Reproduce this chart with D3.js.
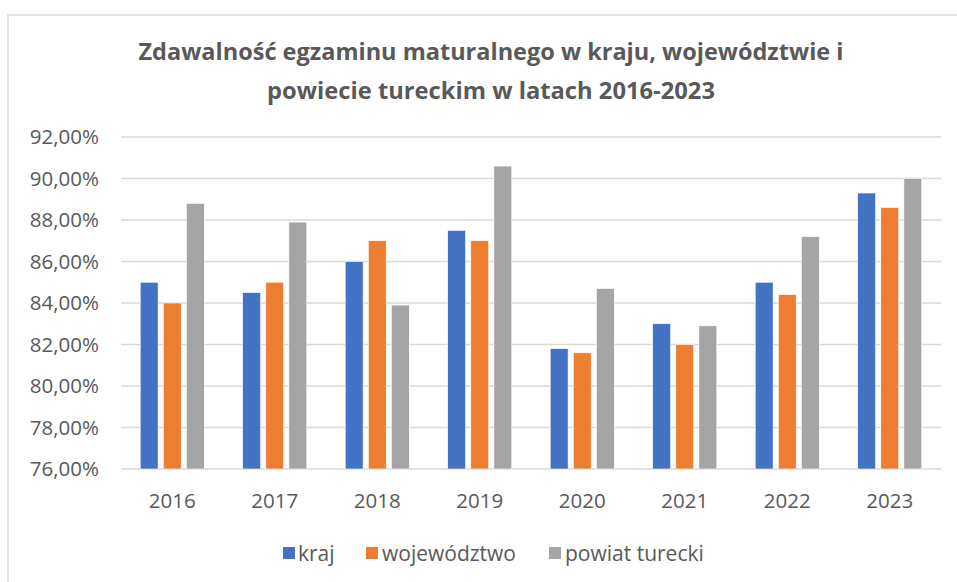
<!DOCTYPE html>
<html>
<head>
<meta charset="utf-8">
<script src="https://cdn.jsdelivr.net/npm/d3@7"></script>
<style>
  html, body { margin: 0; padding: 0; background: #fff; }
  svg { display: block; }
</style>
</head>
<body>
<svg id="chart" width="957" height="582"></svg>
<script>
const years = ["2016", "2017", "2018", "2019", "2020", "2021", "2022", "2023"];
const seriesNames = ["kraj", "województwo", "powiat turecki"];
const kraj = [85.0, 84.5, 86.0, 87.5, 81.8, 83.0, 85.0, 89.3];
const wojewodztwo = [84.0, 85.0, 87.0, 87.0, 81.6, 82.0, 84.4, 88.6];
const powiat = [88.8, 87.9, 83.9, 90.6, 84.7, 82.9, 87.2, 90.0];
const yTicks = [76, 78, 80, 82, 84, 86, 88, 90, 92];
const titleLines = ["Zdawalność egzaminu maturalnego w kraju, województwie i",
                    "powiecie tureckim w latach 2016-2023"];
const colors = ["#4472C4", "#ED7D31", "#A5A5A5"];

const seriesValues = [kraj, wojewodztwo, powiat];
const svg = d3.select("#chart");
const textColor = "#595959";
const font = "'Open Sans', 'Segoe UI', sans-serif";

// outer frame
svg.append("rect").attr("x", 8).attr("y", 15).attr("width", 1000).attr("height", 700)
  .attr("fill", "#fff").attr("stroke", "#d9d9d9").attr("stroke-width", 1.5);

const pLeft = 121, pRight = 941, pTop = 137, pBottom = 469;
const y = d3.scaleLinear().domain([76, 92]).range([pBottom, pTop]);
const x0 = d3.scaleBand().domain(years).range([pLeft, pRight]).paddingInner(0).paddingOuter(0);
const groupW = x0.bandwidth() * 0.625;
const x1 = d3.scaleBand().domain(seriesNames).range([0, groupW]).paddingInner(0.225);

// gridlines
svg.append("g").selectAll("line").data(yTicks).join("line")
  .attr("x1", pLeft).attr("x2", pRight)
  .attr("y1", d => y(d)).attr("y2", d => y(d))
  .attr("stroke", "#d9d9d9").attr("stroke-width", 1.5);

// y labels
const fmt = d => d.toFixed(2).replace(".", ",") + "%";
svg.append("g").selectAll("text").data(yTicks).join("text")
  .attr("x", 99).attr("y", d => y(d)).attr("dy", "0.36em")
  .attr("text-anchor", "end").attr("fill", textColor)
  .style("font-family", font).style("font-size", "20.5px")
  .text(fmt);

// bars
const g = svg.append("g");
years.forEach((yr, i) => {
  const gx = x0(yr) + (x0.bandwidth() - groupW) / 2;
  g.selectAll(null).data(seriesNames.map((s, j) => ({s, j, v: seriesValues[j][i]}))).join("rect")
    .attr("x", d => gx + x1(d.s))
    .attr("width", x1.bandwidth())
    .attr("y", d => y(d.v))
    .attr("height", d => y(76) - y(d.v))
    .attr("fill", d => colors[d.j])
    .attr("stroke", "#fff").attr("stroke-width", 0.6);
});

// x labels
svg.append("g").selectAll("text").data(years).join("text")
  .attr("x", d => x0(d) + x0.bandwidth() / 2).attr("y", 508)
  .attr("text-anchor", "middle").attr("fill", textColor)
  .style("font-family", font).style("font-size", "20.5px")
  .text(d => d);

// title
const titleWidths = [705, 448];
const titleYs = [60, 99];
titleLines.forEach((t, i) => {
  svg.append("text")
    .attr("x", 491).attr("y", titleYs[i])
    .attr("text-anchor", "middle").attr("fill", textColor)
    .attr("textLength", titleWidths[i]).attr("lengthAdjust", "spacingAndGlyphs")
    .style("font-family", font).style("font-size", "23px").style("font-weight", "bold")
    .text(t);
});

// legend
const legendItems = [
  {name: seriesNames[0], sq: 283, tx: 298},
  {name: seriesNames[1], sq: 366, tx: 382},
  {name: seriesNames[2], sq: 549, tx: 565}
];
const lg = svg.append("g");
legendItems.forEach((d, i) => {
  lg.append("rect").attr("x", d.sq).attr("y", 547).attr("width", 12).attr("height", 12)
    .attr("fill", colors[i]);
  lg.append("text").attr("x", d.tx).attr("y", 553).attr("dy", "0.36em")
    .attr("fill", textColor)
    .style("font-family", font).style("font-size", "21px")
    .text(d.name);
});
</script>
</body>
</html>
